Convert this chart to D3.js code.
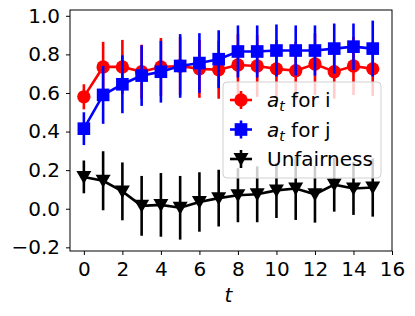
<html>
<head>
  <meta charset="utf-8">
  <script src="https://d3js.org/d3.v7.min.js"></script>
  <style>
    body { margin: 0; background: #fff; }
    text { font-family: "DejaVu Sans", sans-serif; }
  </style>
</head>
<body>
<svg class="chart" width="415" height="316"></svg>
<script>
  // data
  var steps = d3.range(16);
  var aI    = [0.58, 0.735, 0.735, 0.71, 0.735, 0.74, 0.725, 0.72, 0.745, 0.74, 0.725, 0.715, 0.75, 0.71, 0.74, 0.725];
  var aIErr = [0.065, 0.13, 0.14, 0.14, 0.15, 0.15, 0.15, 0.15, 0.16, 0.16, 0.15, 0.15, 0.16, 0.14, 0.15, 0.14];
  var aJ    = [0.415, 0.59, 0.645, 0.69, 0.71, 0.74, 0.755, 0.775, 0.815, 0.815, 0.82, 0.82, 0.82, 0.83, 0.84, 0.83];
  var aJErr = [0.085, 0.15, 0.15, 0.157, 0.16, 0.165, 0.155, 0.15, 0.135, 0.135, 0.135, 0.13, 0.13, 0.13, 0.12, 0.145];
  var unfair    = [0.165, 0.145, 0.09, 0.015, 0.02, 0.005, 0.035, 0.055, 0.07, 0.075, 0.095, 0.105, 0.075, 0.125, 0.105, 0.11];
  var unfairErr = [0.085, 0.153, 0.15, 0.155, 0.165, 0.165, 0.154, 0.147, 0.14, 0.145, 0.143, 0.163, 0.147, 0.14, 0.137, 0.151];
  var xTicks = d3.range(0, 17, 2);
  var yTicks = [-0.2, 0, 0.2, 0.4, 0.6, 0.8, 1.0];

  var margin = { left: 70, top: 10, right: 23, bottom: 65 };
  var width = 415 - margin.left - margin.right,
      height = 316 - margin.top - margin.bottom;

  var svg = d3.select('svg.chart');
  var g = svg.append('g').attr('transform', 'translate(' + margin.left + ',' + margin.top + ')');

  var x = d3.scaleLinear().domain([-0.72, 16]).range([0, width]);
  var y = d3.scaleLinear().domain([-0.219, 1.03]).range([height, 0]);

  var plot = g.append('g');

  function drawSeries(vals, errs, color, marker) {
    var s = plot.append('g');
    s.selectAll('line.err')
      .data(steps)
      .enter()
      .append('line')
      .attr('x1', function(d) { return x(d) })
      .attr('x2', function(d) { return x(d) })
      .attr('y1', function(d) { return y(vals[d] - errs[d]) })
      .attr('y2', function(d) { return y(vals[d] + errs[d]) })
      .attr('stroke', color)
      .attr('stroke-width', 2.6);

    s.append('path')
      .datum(steps)
      .attr('fill', 'none')
      .attr('stroke', color)
      .attr('stroke-width', 2.6)
      .attr('d', d3.line().x(function(d) { return x(d) }).y(function(d) { return y(vals[d]) }));

    s.selectAll('path.mk')
      .data(steps)
      .enter()
      .append('path')
      .attr('class', 'mk')
      .attr('fill', color)
      .attr('transform', function(d) { return 'translate(' + x(d) + ',' + y(vals[d]) + ')' })
      .attr('d', marker);
  }

  var circle = d3.symbol().type(d3.symbolCircle).size(140)();
  var square = d3.symbol().type(d3.symbolSquare).size(160)();
  var triDown = 'M-7.5,-6L7.5,-6L0,7Z';

  drawSeries(aI, aIErr, '#ff0000', circle);
  drawSeries(aJ, aJErr, '#0000ff', square);
  drawSeries(unfair, unfairErr, '#000000', triDown);

  // axes
  var xAxis = g.append('g')
    .attr('transform', 'translate(0,' + height + ')')
    .call(d3.axisBottom(x).tickValues(xTicks).tickSize(4).tickPadding(7).tickFormat(d3.format('d')));
  var yAxis = g.append('g')
    .call(d3.axisLeft(y).tickValues(yTicks).tickSize(4).tickPadding(6).tickFormat(d3.format('.1f')));
  [xAxis, yAxis].forEach(function(a) {
    a.select('.domain').remove();
    a.selectAll('text').attr('font-size', 20).attr('fill', '#000').attr('font-family', 'DejaVu Sans');
    a.selectAll('line').attr('stroke', '#000').attr('stroke-width', 1);
  });

  g.append('rect')
    .attr('width', width)
    .attr('height', height)
    .attr('fill', 'none')
    .attr('stroke', '#000')
    .attr('stroke-width', 1);

  g.append('text')
    .attr('x', x(7.5))
    .attr('y', height + 51)
    .attr('text-anchor', 'middle')
    .attr('font-size', 20)
    .attr('font-style', 'italic')
    .text('t');

  // legend
  var legend = g.append('g').attr('transform', 'translate(153,72)');
  legend.append('rect')
    .attr('width', 158)
    .attr('height', 96)
    .attr('rx', 4)
    .attr('fill', '#fff')
    .attr('fill-opacity', 0.8)
    .attr('stroke', '#d0d0d0')
    .attr('stroke-width', 1);

  var entries = [
    { color: '#ff0000', marker: circle, label: 'i' },
    { color: '#0000ff', marker: square, label: 'j' },
    { color: '#000000', marker: triDown, label: null }
  ];
  entries.forEach(function(e, i) {
    var row = legend.append('g').attr('transform', 'translate(0,' + (18 + i * 29.5) + ')');
    row.append('line').attr('x1', 7).attr('x2', 29).attr('stroke', e.color).attr('stroke-width', 2.6);
    row.append('line').attr('x1', 18).attr('x2', 18).attr('y1', -9).attr('y2', 9).attr('stroke', e.color).attr('stroke-width', 2.6);
    row.append('path').attr('transform', 'translate(18,0)').attr('d', e.marker).attr('fill', e.color);
    var t = row.append('text').attr('x', 44).attr('y', 7).attr('font-size', 20);
    if (e.label) {
      t.append('tspan').attr('font-style', 'italic').text('a');
      t.append('tspan').attr('font-style', 'italic').attr('font-size', 14).attr('dy', 4).text('t');
      t.append('tspan').attr('dy', -4).text(' for ' + e.label);
    } else {
      t.text('Unfairness');
    }
  });
</script>
</body>
</html>
